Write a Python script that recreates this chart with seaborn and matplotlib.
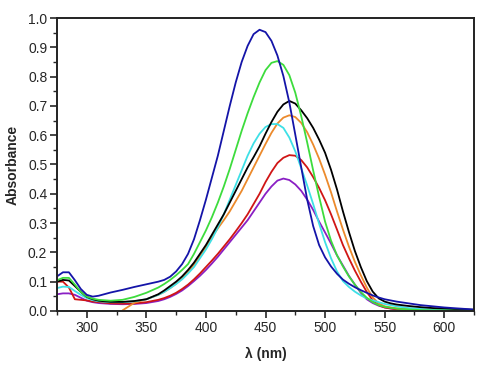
import pandas as pd
import seaborn as sns
import matplotlib.pyplot as plt
from matplotlib.ticker import MultipleLocator

wl = [275, 280, 285, 290, 295, 300, 305, 310,
      320, 330, 340, 350,
      360, 365, 370, 375, 380, 385, 390, 395, 400, 405, 410, 415, 420, 425,
      430, 435, 440, 445, 450, 455, 460, 465, 470, 475, 480, 485, 490, 495,
      500, 505, 510, 515, 520, 525, 530, 535, 540, 545, 550, 555, 560,
      570, 580, 590, 600, 610, 625]

blue = [0.118, 0.132, 0.132, 0.105, 0.075, 0.055, 0.049, 0.052,
        0.063, 0.072, 0.082, 0.091,
        0.100, 0.106, 0.117, 0.135, 0.160, 0.195, 0.245, 0.310, 0.380, 0.455, 0.530, 0.615, 0.700, 0.780,
        0.850, 0.905, 0.945, 0.960, 0.952, 0.922, 0.872, 0.802, 0.712, 0.602, 0.490, 0.380, 0.290, 0.225,
        0.183, 0.152, 0.127, 0.107, 0.093, 0.081, 0.071, 0.062, 0.053, 0.046, 0.040, 0.036, 0.032,
        0.026, 0.020, 0.016, 0.012, 0.009, 0.005]

green = [0.105, 0.113, 0.113, 0.090, 0.065, 0.049, 0.042, 0.038,
         0.035, 0.038, 0.048, 0.062,
         0.080, 0.092, 0.106, 0.122, 0.140, 0.160, 0.195, 0.235, 0.275, 0.320, 0.370, 0.425, 0.485, 0.550,
         0.615, 0.675, 0.730, 0.780, 0.822, 0.847, 0.853, 0.840, 0.805, 0.745, 0.665, 0.575, 0.480, 0.390,
         0.305, 0.240, 0.190, 0.152, 0.118, 0.090, 0.065, 0.045, 0.030, 0.020, 0.014, 0.011, 0.008,
         0.005, 0.003, 0.002, 0.002, 0.001, 0.001]

black = [0.100, 0.106, 0.104, 0.085, 0.065, 0.048, 0.040, 0.035,
         0.031, 0.031, 0.034, 0.040,
         0.057, 0.070, 0.085, 0.100, 0.118, 0.140, 0.165, 0.195, 0.225, 0.260, 0.295, 0.330, 0.370, 0.410,
         0.450, 0.490, 0.525, 0.562, 0.605, 0.645, 0.680, 0.705, 0.717, 0.708, 0.685, 0.658, 0.625, 0.585,
         0.540, 0.482, 0.415, 0.340, 0.270, 0.205, 0.150, 0.102, 0.066, 0.043, 0.032, 0.026, 0.022,
         0.017, 0.013, 0.010, 0.008, 0.006, 0.004]

orange = [None, None, None, None, None, None, None, None,
          None, 0.002, 0.028, 0.040,
          0.055, 0.065, 0.078, 0.093, 0.111, 0.133, 0.158, 0.188, 0.218, 0.252, 0.282, 0.310, 0.340, 0.375,
          0.410, 0.450, 0.490, 0.530, 0.570, 0.608, 0.640, 0.660, 0.668, 0.662, 0.642, 0.610, 0.568, 0.520,
          0.465, 0.405, 0.340, 0.278, 0.220, 0.168, 0.122, 0.080, 0.046, 0.026, 0.016, 0.012, 0.009,
          0.006, 0.004, 0.003, 0.002, 0.002, 0.001]

cyan = [0.078, 0.083, 0.082, 0.068, 0.055, 0.044, 0.037, 0.033,
        0.030, 0.030, 0.033, 0.040,
        0.055, 0.065, 0.078, 0.092, 0.108, 0.128, 0.150, 0.180, 0.210, 0.245, 0.285, 0.330, 0.380, 0.430,
        0.480, 0.530, 0.572, 0.605, 0.628, 0.638, 0.638, 0.625, 0.592, 0.545, 0.487, 0.428, 0.365, 0.298,
        0.235, 0.180, 0.135, 0.102, 0.082, 0.066, 0.053, 0.043, 0.036, 0.030, 0.024, 0.020, 0.016,
        0.010, 0.007, 0.005, 0.004, 0.003, 0.002]

red = [0.100, 0.100, 0.080, 0.040, 0.038, 0.036, 0.032, 0.030,
       0.026, 0.025, 0.026, 0.030,
       0.038, 0.044, 0.052, 0.062, 0.075, 0.090, 0.108, 0.128, 0.150, 0.172, 0.195, 0.220, 0.245, 0.272,
       0.300, 0.330, 0.365, 0.400, 0.440, 0.475, 0.505, 0.523, 0.532, 0.530, 0.515, 0.490, 0.457, 0.420,
       0.378, 0.330, 0.278, 0.225, 0.180, 0.138, 0.100, 0.065, 0.036, 0.020, 0.012, 0.009, 0.006,
       0.003, 0.002, 0.001, 0.001, 0.000, 0.000]

purple = [0.057, 0.060, 0.060, 0.055, 0.045, 0.035, 0.030, 0.027,
          0.024, 0.023, 0.024, 0.027,
          0.034, 0.040, 0.048, 0.058, 0.070, 0.085, 0.102, 0.120, 0.140, 0.162, 0.185, 0.210, 0.235, 0.260,
          0.285, 0.310, 0.340, 0.370, 0.400, 0.425, 0.445, 0.452, 0.447, 0.432, 0.410, 0.380, 0.345, 0.305,
          0.268, 0.230, 0.190, 0.155, 0.120, 0.090, 0.062, 0.040, 0.027, 0.018, 0.012, 0.008, 0.006,
          0.003, 0.002, 0.001, 0.001, 0.000, 0.000]

series = {"purple": purple, "red": red, "orange": orange, "cyan": cyan,
          "black": black, "green": green, "blue": blue}
colors = {"purple": "#8a1fc4", "red": "#d01515", "orange": "#ec8a2c",
          "cyan": "#3ee0e6", "black": "#000000", "green": "#3ddc3d",
          "blue": "#1414a8"}

rows = []
for name, vals in series.items():
    for x, y in zip(wl, vals):
        if y is not None:
            rows.append({"wl": x, "A": y, "curve": name})
df = pd.DataFrame(rows)

sns.set_style("white")
plt.rcParams['font.family'] = ['Liberation Sans', 'DejaVu Sans']

fig = plt.figure(figsize=(5, 3.68), dpi=100)
ax = fig.add_axes([0.114, 0.155, 0.834, 0.796])

sns.lineplot(data=df, x="wl", y="A", hue="curve", palette=colors,
             estimator=None, linewidth=1.3, legend=False, ax=ax)

ax.set_xlim(275, 625)
ax.set_ylim(0, 1.0)
ax.xaxis.set_major_locator(MultipleLocator(50))
ax.xaxis.set_minor_locator(MultipleLocator(25))
ax.yaxis.set_major_locator(MultipleLocator(0.1))
ax.yaxis.set_minor_locator(MultipleLocator(0.05))
ax.tick_params(which="major", direction="out", length=5, width=1.2,
               labelsize=10, pad=2, top=False, right=False, bottom=True, left=True)
ax.tick_params(which="minor", direction="out", length=3, width=1.0,
               top=False, right=False, bottom=True, left=True)
ax.set_yticks([i / 10 for i in range(11)])
ax.set_yticklabels([f"{i / 10:.1f}" for i in range(11)])

for s in ax.spines.values():
    s.set_linewidth(1.4)
    s.set_color("#222222")

ax.set_xlabel("λ (nm)", fontsize=10, fontweight="bold", labelpad=9)
ax.set_ylabel("Absorbance", fontsize=10, fontweight="bold", labelpad=6)

plt.savefig("out.png", dpi=100)
